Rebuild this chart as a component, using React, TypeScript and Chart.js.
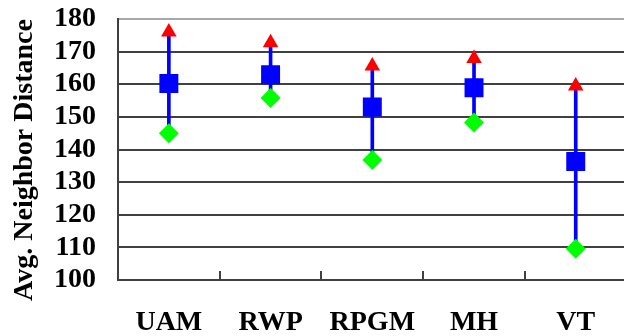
import React, { useEffect, useRef } from 'react';
import { Chart, registerables } from 'chart.js';

Chart.register(...registerables);

const categories = ['UAM', 'RWP', 'RPGM', 'MH', 'VT'];
const maxValues = [176, 172.7, 165.6, 167.9, 159.5];
const meanValues = [160.2, 162.9, 153, 158.9, 136.3];
const minValues = [145, 155.8, 136.8, 148.3, 109.6];
const yMin = 100;
const yMax = 180;
const yStep = 10;
const yTitle = 'Avg. Neighbor Distance';

const FONT = "'Liberation Serif', 'Times New Roman', serif";

const innerTicks = {
  id: 'innerTicks',
  afterDraw(chart: any) {
    const x = chart.scales.x;
    const { bottom } = chart.chartArea;
    const ctx = chart.ctx;
    ctx.save();
    ctx.strokeStyle = '#404040';
    ctx.lineWidth = 2;
    ctx.beginPath();
    for (let i = 0; i < categories.length - 1; i++) {
      const px = Math.round((x.getPixelForValue(i) + x.getPixelForValue(i + 1)) / 2);
      ctx.moveTo(px, bottom);
      ctx.lineTo(px, bottom - 9);
    }
    ctx.stroke();
    ctx.restore();
  },
};

export default function App() {
  const ref = useRef<HTMLCanvasElement | null>(null);

  useEffect(() => {
    if (!ref.current) return;
    const chart = new Chart(ref.current, {
      type: 'bar',
      data: {
        labels: categories,
        datasets: [
          {
            type: 'bar',
            label: 'range',
            data: categories.map((_, i) => [minValues[i], maxValues[i]]) as any,
            backgroundColor: '#0000ff',
            borderWidth: 0,
            barThickness: 3,
            order: 10,
          } as any,
          {
            type: 'line',
            label: 'min',
            data: minValues,
            showLine: false,
            pointStyle: 'rectRot',
            pointRadius: 10,
            backgroundColor: '#00ff00',
            borderColor: '#00ff00',
            borderWidth: 0,
            order: 2,
          },
          {
            type: 'line',
            label: 'mean',
            data: meanValues,
            showLine: false,
            pointStyle: 'rect',
            pointRadius: 13.4,
            backgroundColor: '#0000ff',
            borderColor: '#0000ff',
            borderWidth: 0,
            order: 1,
          },
          {
            type: 'line',
            label: 'max',
            data: maxValues,
            showLine: false,
            pointStyle: 'triangle',
            pointRadius: 9,
            backgroundColor: '#ff0000',
            borderColor: '#ff0000',
            borderWidth: 0,
            order: 0,
          },
        ],
      },
      options: {
        responsive: false,
        animation: false,
        events: [],
        layout: { padding: { left: 0, top: 19, right: 4, bottom: 0 } },
        plugins: {
          legend: { display: false },
          tooltip: { enabled: false },
        },
        scales: {
          x: {
            offset: true,
            afterFit: (scale: any) => {
              scale.height = 56;
              scale.paddingLeft = 0;
              scale.paddingRight = 0;
            },
            grid: { display: false, drawTicks: false },
            border: { display: true, color: '#404040', width: 2 },
            ticks: {
              color: '#000',
              padding: 26,
              autoSkip: false,
              maxRotation: 0,
              font: { family: FONT, size: 28, weight: 'bold' },
            },
          },
          y: {
            min: yMin,
            max: yMax,
            afterFit: (scale: any) => {
              scale.width = 118;
              scale.paddingTop = 0;
              scale.paddingBottom = 0;
            },
            grid: {
              drawTicks: false,
              lineWidth: 2,
              color: (c: any) => (c.tick && c.tick.value === yMax ? '#a8a8a8' : '#404040'),
            },
            border: { display: true, color: '#404040', width: 2 },
            ticks: {
              stepSize: yStep,
              autoSkip: false,
              color: '#000',
              padding: 22,
              font: { family: FONT, size: 28, weight: 'bold' },
            },
            title: {
              display: true,
              text: yTitle + '   ',
              color: '#000',
              padding: { top: 8, bottom: 0 },
              font: { family: FONT, size: 28, weight: 'bold' },
            },
          },
        },
      },
      plugins: [innerTicks],
    });
    return () => chart.destroy();
  }, []);

  return (
    <div style={{ position: 'fixed', left: 0, top: 0, width: 624, height: 336, overflow: 'hidden', background: '#fff' }}>
      <canvas ref={ref} width={640} height={336} style={{ display: 'block' }} />
    </div>
  );
}
